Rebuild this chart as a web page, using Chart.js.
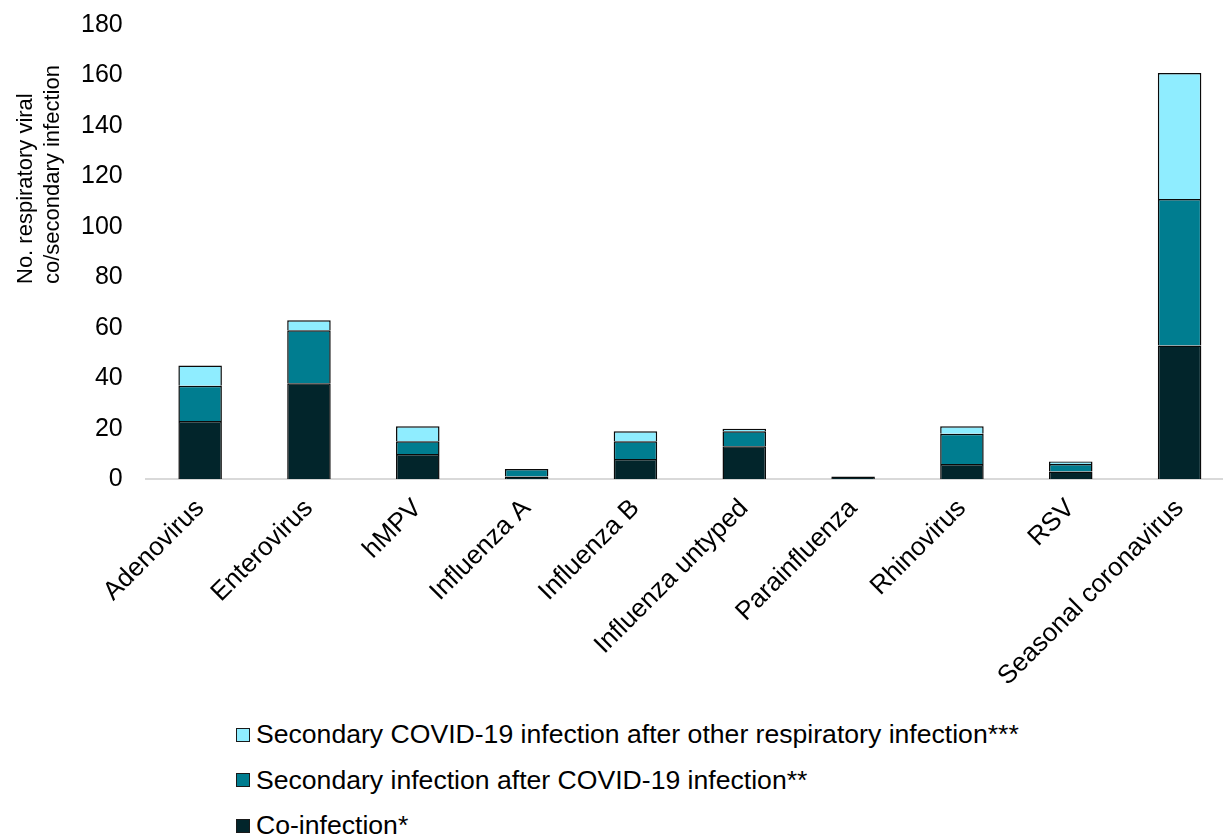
<!DOCTYPE html>
<html>
<head>
<meta charset="utf-8">
<script src="https://cdn.jsdelivr.net/npm/chart.js@4.4.1/dist/chart.umd.min.js"></script>
<style>
  html, body { margin: 0; padding: 0; background: #fff; overflow: hidden; }
  #wrap { position: relative; width: 1223px; height: 835px; overflow: hidden; }
  #box { position: absolute; left: -22px; top: -13px; width: 1256px; height: 719px; }
  #legend { position: absolute; left: 236px; top: 712px; font-family: "Liberation Sans", Arial, sans-serif; font-size: 26.6px; color: #000; }
  #legend .row { height: 45.5px; display: flex; align-items: center; white-space: nowrap; }
  #legend .sw { width: 12px; height: 12px; border: 1.5px solid #1a1a1a; margin-right: 6px; }
</style>
</head>
<body>
<div id="wrap">
  <div id="box"><canvas id="chart_0"></canvas></div>
  <div id="legend"></div>
</div>
<script>
// Virus categories
const categories = ['Adenovirus', 'Enterovirus', 'hMPV', 'Influenza A', 'Influenza B',
    'Influenza untyped', 'Parainfluenza', 'Rhinovirus', 'RSV', 'Seasonal coronavirus'];

// Series values
const coInfection = [23, 38, 10, 1, 8, 13, 1, 6, 3, 53];
const secondaryAfterCovid = [14, 21, 5, 3, 7, 6, 0, 12, 3, 58];
const covidAfterOther = [8, 4, 6, 0, 4, 1, 0, 3, 1, 50];

const seriesLabels = [
    'Co-infection*',
    'Secondary infection after COVID-19 infection**',
    'Secondary COVID-19 infection after other respiratory infection***'
];
const seriesColors = ['#02252B', '#007D90', '#8FEDFF'];

const yTitleLines = ['No. respiratory viral', 'co/secondary infection'];

Chart.defaults.font.family = '"Liberation Sans", Arial, sans-serif';
Chart.defaults.font.size = 25;
Chart.defaults.color = '#000';

// y-axis title: two lines, both starting from the same bottom point
const yTitlePlugin = {
    id: 'yTitle',
    afterDraw(chart) {
        const c = chart.ctx;
        c.save();
        c.translate(61, 297);
        c.rotate(-Math.PI / 2);
        c.font = '22px "Liberation Sans", Arial, sans-serif';
        c.fillStyle = '#000';
        c.textAlign = 'left';
        c.textBaseline = 'middle';
        c.fillText(yTitleLines[0], 0, -13);
        c.fillText(yTitleLines[1], 0, 14);
        c.restore();
    }
};

function makeDataset(label, data, color) {
    return {
        label: label,
        data: data,
        backgroundColor: color,
        borderColor: '#0a0a0a',
        borderWidth: 1.5,
        barPercentage: 0.4,
        categoryPercentage: 1.0
    };
}

const chart = new Chart(document.getElementById('chart_0').getContext('2d'), {
    type: 'bar',
    data: {
        labels: categories,
        datasets: [
            makeDataset(seriesLabels[0], coInfection, seriesColors[0]),
            makeDataset(seriesLabels[1], secondaryAfterCovid, seriesColors[1]),
            makeDataset(seriesLabels[2], covidAfterOther, seriesColors[2])
        ]
    },
    options: {
        responsive: true,
        maintainAspectRatio: false,
        animation: false,
        layout: { padding: { top: 0, left: 80, right: 0, bottom: 0 } },
        plugins: {
            legend: { display: false },
            tooltip: { enabled: false }
        },
        scales: {
            x: {
                stacked: true,
                grid: { display: false, drawTicks: false },
                border: { display: true, color: '#d9d9d9', width: 2 },
                ticks: { minRotation: 45, maxRotation: 45, autoSkip: false, padding: 14, font: { size: 26 } }
            },
            y: {
                stacked: true,
                min: 0,
                max: 180,
                grid: { display: false, drawTicks: false },
                border: { display: false },
                ticks: { stepSize: 20, padding: 23 }
            }
        }
    },
    plugins: [yTitlePlugin]
});

// Legend, top row = last series, as in the original
const legend = document.getElementById('legend');
[2, 1, 0].forEach(function (i) {
    const row = document.createElement('div');
    row.className = 'row';
    const sw = document.createElement('span');
    sw.className = 'sw';
    sw.style.background = seriesColors[i];
    const txt = document.createElement('span');
    txt.textContent = seriesLabels[i];
    row.appendChild(sw);
    row.appendChild(txt);
    legend.appendChild(row);
});
</script>
</body>
</html>
